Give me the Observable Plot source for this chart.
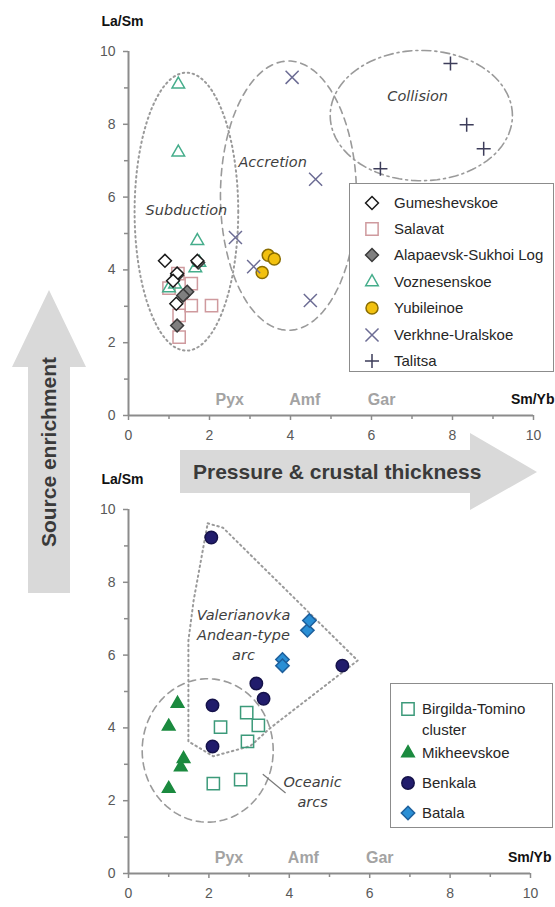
<!DOCTYPE html>
<html>
<head>
<meta charset="utf-8">
<script src="https://cdn.jsdelivr.net/npm/d3@7"></script>
<script src="https://cdn.jsdelivr.net/npm/@observablehq/plot@0.6"></script>
<style>
  html, body { margin: 0; padding: 0; background: #fff; }
  body { width: 555px; height: 907px; position: relative; overflow: hidden; font-family: "Liberation Sans", Arial, sans-serif; }
  .abs { position: absolute; }
  .legend { position: absolute; border: 1px solid #8c8c8c; background: #fff; box-sizing: border-box; }
  .legend .item { position: absolute; font-size: 15px; color: #262626; white-space: nowrap; line-height: 1; }
  .legend svg { position: absolute; overflow: visible; }
  .arrowtxt { position: absolute; font-weight: bold; font-size: 21px; color: #3a3a3a; white-space: nowrap; }
</style>
</head>
<body>
<div id="top" class="abs" style="left:0;top:0"></div>
<div id="bottom" class="abs" style="left:0;top:470px"></div>
<script>
// ---------- data ----------
const ticksMajor = [0, 2, 4, 6, 8, 10];
const ticksMinor = [1, 3, 5, 7, 9];
const zoneNames = ["Pyx", "Amf", "Gar"];
const zoneX = [2.5, 4.35, 6.25];

// upper panel (La/Sm vs Sm/Yb)
const gumeshevskoe = [[0.9, 4.25], [1.2, 3.9], [1.1, 3.7], [1.18, 3.07], [1.7, 4.25]];
const salavat = [[1.25, 2.15], [1.25, 2.75], [1.55, 3.62], [1.55, 3.02], [2.05, 3.02], [1.22, 3.9], [1.0, 3.5]];
const alapaevsk = [[1.2, 2.47], [1.45, 3.4], [1.35, 3.3], [1.72, 4.2], [1.2, 3.85]];
const voznesenskoe = [[1.23, 9.1], [1.23, 7.23], [1.7, 4.8], [1.65, 4.05], [1.0, 3.5], [1.15, 3.6], [1.75, 4.2]];
const yubileinoe = [[3.45, 4.4], [3.6, 4.3], [3.3, 3.93]];
const verkhneUralskoe = [[4.04, 9.29], [4.62, 6.49], [2.64, 4.89], [3.09, 4.09], [4.49, 3.16]];
const talitsa = [[7.95, 9.67], [8.35, 7.99], [8.77, 7.33], [6.22, 6.78]];

// lower panel
const birgildaTomino = [[2.94, 4.42], [3.23, 4.07], [2.29, 4.02], [2.96, 3.63], [2.11, 2.47], [2.79, 2.58]];
const mikheevskoe = [[1.22, 4.67], [1.0, 4.04], [1.37, 3.15], [1.3, 2.92], [1.0, 2.33]];
const benkala = [[2.06, 9.23], [3.18, 5.22], [3.36, 4.8], [2.09, 4.62], [2.09, 3.49], [5.32, 5.71]];
const batala = [[3.83, 5.88], [3.83, 5.71], [4.45, 6.68], [4.5, 6.95]];

// field outlines (ellipse centre / radii in data units)
const topFieldNames = ["Subduction", "Accretion", "Collision"];
const topFieldCx = [1.43, 3.95, 7.23];
const topFieldCy = [5.6, 6.04, 8.24];
const topFieldRx = [1.28, 1.68, 2.25];
const topFieldRy = [3.82, 3.7, 1.79];
const topFieldLabelX = [1.43, 3.56, 7.14];
const topFieldLabelY = [5.63, 6.95, 8.76];

const oceanicCx = 1.97, oceanicCy = 3.38, oceanicRx = 1.63, oceanicRy = 1.97;
const andeanOutline = [[1.97, 9.62], [2.35, 9.5], [5.7, 5.85], [3.53, 4.0], [3.03, 3.5], [2.11, 3.22], [1.49, 3.63], [1.49, 6.4], [1.62, 7.5]];
const andeanLabel = ["Valerianovka", "Andean-type", "arc"];
const andeanLabelY = [7.09, 6.54, 5.99];
const andeanLabelX = 2.86;
const oceanicLabel = ["Oceanic", "arcs"];
const oceanicLabelY = [2.5, 1.95];
const oceanicLabelX = 4.58;
const oceanicLeader = [[3.35, 2.72], [3.9, 2.22]];

// ---------- styles ----------
const topSeries = [
  {name: "Gumeshevskoe", data: gumeshevskoe, symbol: "diamond2", r: 5.8, fill: "white", stroke: "#1a1a1a"},
  {name: "Salavat", data: salavat, symbol: "square2", r: 7.8, fill: "none", stroke: "#cf9a9e"},
  {name: "Alapaevsk-Sukhoi Log", data: alapaevsk, symbol: "diamond2", r: 5.8, fill: "#7f7f7f", stroke: "#3a3a3a"},
  {name: "Voznesenskoe", data: voznesenskoe, symbol: "triangle2", r: 6, fill: "none", stroke: "#45ad8b"},
  {name: "Yubileinoe", data: yubileinoe, symbol: "circle", r: 6, fill: "#f2c10f", stroke: "#8a6d00"},
  {name: "Verkhne-Uralskoe", data: verkhneUralskoe, symbol: "times", r: 6, fill: "none", stroke: "#6c6c94"},
  {name: "Talitsa", data: talitsa, symbol: "plus", r: 4.6, fill: "none", stroke: "#3d3d5a"}
];
const topDrawOrder = [1, 3, 2, 0, 4, 5, 6];

const bottomSeries = [
  {name: "Birgilda-Tomino\ncluster", data: birgildaTomino, symbol: "square2", r: 7.8, fill: "none", stroke: "#3c9a7a"},
  {name: "Mikheevskoe", data: mikheevskoe, symbol: "triangle2", r: 6, fill: "#1b8a3f", stroke: "#1b8a3f"},
  {name: "Benkala", data: benkala, symbol: "circle", r: 6.2, fill: "#211c6c", stroke: "#15124a"},
  {name: "Batala", data: batala, symbol: "diamond2", r: 6, fill: "#2a8fd5", stroke: "#1d5f9c"}
];

const symMap = {
  circle: d3.symbolCircle, diamond2: d3.symbolDiamond2, square2: d3.symbolSquare2,
  triangle2: d3.symbolTriangle2, times: d3.symbolTimes, plus: d3.symbolPlus
};

function ellipse(cx, cy, rx, ry) {
  return d3.range(0, 360, 4).map(a => {
    const t = a * Math.PI / 180;
    return [cx + rx * Math.cos(t), cy + ry * Math.sin(t)];
  });
}

const AX = "#8c8c8c";
const TICKTXT = "#595959";
const FIELD = "#9a9a9a";

function axes() {
  return [
    Plot.ruleX([0], {stroke: AX, strokeWidth: 2}),
    Plot.ruleY([0], {stroke: AX, strokeWidth: 2}),
    Plot.axisX({ticks: ticksMajor, tickSize: 5, tickPadding: 10, fontSize: 14, fill: TICKTXT, stroke: AX, strokeWidth: 1.5, label: null}),
    Plot.axisX({ticks: ticksMinor, tickSize: 4, tickFormat: () => "", stroke: AX, strokeWidth: 1.5, label: null}),
    Plot.axisY({ticks: ticksMajor, tickSize: 5, tickPadding: 8, fontSize: 14, fill: TICKTXT, stroke: AX, strokeWidth: 1.5, label: null}),
    Plot.axisY({ticks: ticksMinor, tickSize: 4, tickFormat: () => "", stroke: AX, strokeWidth: 1.5, label: null}),
    Plot.text(zoneNames, {x: (d, i) => zoneX[i], y: () => 0, text: d => d, dy: -16, fontSize: 16, fontWeight: "bold", fill: "#a3a3a3"}),
    Plot.text(["Sm/Yb"], {x: () => 10, y: () => 0, text: d => d, dy: -16, dx: 21, textAnchor: "end", fontSize: 14, fontWeight: "bold", fill: "#111"}),
    Plot.text(["La/Sm"], {x: () => 0, y: () => 10, text: d => d, dy: -30, dx: -6, fontSize: 14, fontWeight: "bold", fill: "#111"})
  ];
}

function seriesMarks(s) {
  return Plot.dot(s.data, {x: d => d[0], y: d => d[1], symbol: s.symbol, r: s.r, fill: s.fill, stroke: s.stroke, strokeWidth: 1.5});
}

// ---------- upper panel ----------
const topMarks = [
  ...axes(),
  Plot.line(ellipse(topFieldCx[0], topFieldCy[0], topFieldRx[0], topFieldRy[0]), {x: d => d[0], y: d => d[1], curve: "linear-closed", stroke: FIELD, strokeWidth: 2, strokeDasharray: "1.5,3.5", strokeLinecap: "round"}),
  Plot.line(ellipse(topFieldCx[1], topFieldCy[1], topFieldRx[1], topFieldRy[1]), {x: d => d[0], y: d => d[1], curve: "linear-closed", stroke: FIELD, strokeWidth: 1.6, strokeDasharray: "7,5"}),
  Plot.line(ellipse(topFieldCx[2], topFieldCy[2], topFieldRx[2], topFieldRy[2]), {x: d => d[0], y: d => d[1], curve: "linear-closed", stroke: FIELD, strokeWidth: 1.6, strokeDasharray: "9,4,2,4"}),
  Plot.text(topFieldNames, {x: (d, i) => topFieldLabelX[i], y: (d, i) => topFieldLabelY[i], text: d => d, fontSize: 14.5, fontStyle: "italic", fontFamily: "DejaVu Sans", fill: "#3f3f3f"}),
  ...topDrawOrder.map(i => seriesMarks(topSeries[i]))
];

const topPlot = Plot.plot({
  width: 555, height: 455,
  marginLeft: 128, marginRight: 22, marginTop: 51, marginBottom: 40,
  x: {domain: [0, 10]}, y: {domain: [0, 10]},
  style: {background: "transparent", fontFamily: "'Liberation Sans', Arial, sans-serif", overflow: "visible"},
  marks: topMarks
});
document.getElementById("top").appendChild(topPlot);

// ---------- lower panel ----------
const bottomMarks = [
  ...axes(),
  Plot.line(andeanOutline, {x: d => d[0], y: d => d[1], curve: "linear-closed", stroke: FIELD, strokeWidth: 2, strokeDasharray: "1.5,3.5", strokeLinecap: "round"}),
  Plot.line(ellipse(oceanicCx, oceanicCy, oceanicRx, oceanicRy), {x: d => d[0], y: d => d[1], curve: "linear-closed", stroke: FIELD, strokeWidth: 1.6, strokeDasharray: "7,5"}),
  Plot.line(oceanicLeader, {x: d => d[0], y: d => d[1], stroke: "#7a7a7a", strokeWidth: 1.2}),
  Plot.text(andeanLabel, {x: () => andeanLabelX, y: (d, i) => andeanLabelY[i], text: d => d, fontSize: 14.5, fontStyle: "italic", fontFamily: "DejaVu Sans", fill: "#3f3f3f"}),
  Plot.text(oceanicLabel, {x: () => oceanicLabelX, y: (d, i) => oceanicLabelY[i], text: d => d, fontSize: 14.5, fontStyle: "italic", fontFamily: "DejaVu Sans", fill: "#3f3f3f"}),
  ...bottomSeries.map(seriesMarks)
];

const bottomPlot = Plot.plot({
  width: 555, height: 437,
  marginLeft: 128, marginRight: 25, marginTop: 39, marginBottom: 34,
  x: {domain: [0, 10]}, y: {domain: [0, 10]},
  style: {background: "transparent", fontFamily: "'Liberation Sans', Arial, sans-serif", overflow: "visible"},
  marks: bottomMarks
});
document.getElementById("bottom").appendChild(bottomPlot);

// ---------- legends ----------
function symbolSvg(s, cx, cy) {
  const size = Math.PI * s.r * s.r;
  const p = d3.symbol(symMap[s.symbol], size)();
  return `<svg width="1" height="1" style="left:${cx}px;top:${cy}px"><path d="${p}" fill="${s.fill}" stroke="${s.stroke}" stroke-width="1.5"/></svg>`;
}
function legend(series, opts) {
  const div = document.createElement("div");
  div.className = "legend";
  Object.assign(div.style, {left: opts.left + "px", top: opts.top + "px", width: opts.width + "px", height: opts.height + "px"});
  let html = "";
  series.forEach((s, i) => {
    const cy = opts.rows[i];
    html += symbolSvg(s, opts.symX, cy);
    const lines = s.name.split("\n");
    lines.forEach((ln, j) => {
      html += `<div class="item" style="left:${opts.textX}px;top:${cy - 8 + j * 21}px">${ln}</div>`;
    });
  });
  div.innerHTML = html;
  document.body.appendChild(div);
}
legend(topSeries, {left: 349, top: 183, width: 205, height: 189, symX: 22, textX: 44, rows: [19, 45, 71, 98, 124, 151, 177]});
legend(bottomSeries, {left: 390, top: 683, width: 163, height: 145, symX: 17, textX: 31, rows: [25, 69, 99, 129]});

// ---------- arrows ----------
const va = document.createElement("div");
va.className = "abs";
Object.assign(va.style, {left: "12px", top: "290px", width: "74px", height: "303px", background: "#d9d9d9",
  clipPath: "polygon(37px 0, 74px 77px, 58px 77px, 58px 303px, 16px 303px, 16px 77px, 0 77px)"});
document.body.appendChild(va);
const vt = document.createElement("div");
vt.className = "arrowtxt";
vt.textContent = "Source enrichment";
Object.assign(vt.style, {left: "49px", top: "452px", transform: "translate(-50%,-50%) rotate(-90deg)"});
document.body.appendChild(vt);

const ha = document.createElement("div");
ha.className = "abs";
Object.assign(ha.style, {left: "180px", top: "433px", width: "357px", height: "77px", background: "#d9d9d9",
  clipPath: "polygon(0 17px, 290px 17px, 290px 0, 357px 39px, 290px 77px, 290px 60px, 0 60px)"});
document.body.appendChild(ha);
const ht = document.createElement("div");
ht.className = "arrowtxt";
ht.textContent = "Pressure & crustal thickness";
Object.assign(ht.style, {left: "193px", top: "472px", transform: "translateY(-50%)"});
document.body.appendChild(ht);
</script>
</body>
</html>
